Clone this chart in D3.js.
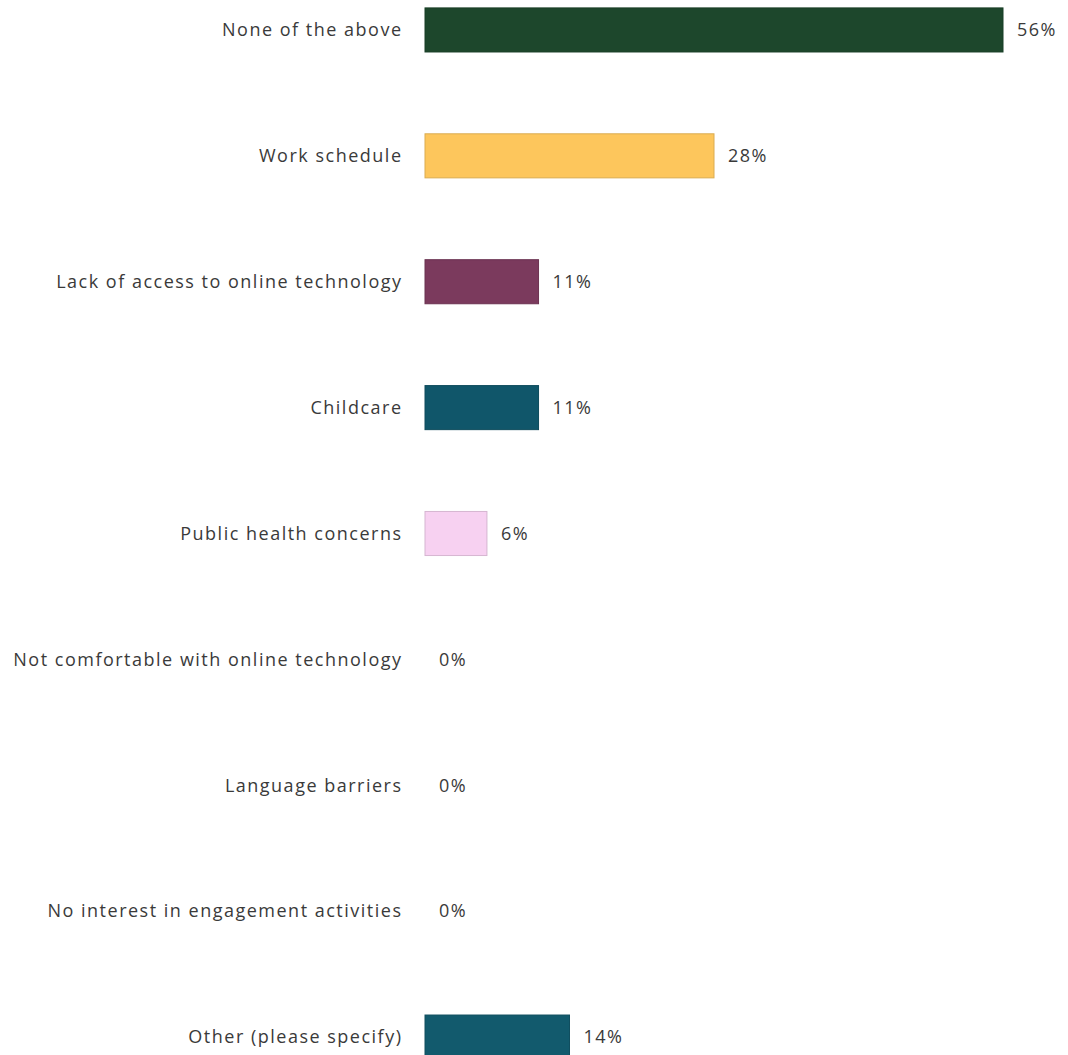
<!DOCTYPE html>
<html>
<head>
<meta charset="utf-8">
<script src="https://cdn.jsdelivr.net/npm/d3@7"></script>
<style>
  html, body { margin: 0; padding: 0; background: #ffffff; }
  svg { display: block; }
  text { font-family: "Open Sans", "Lato", sans-serif; fill: #3a3a3a; font-weight: 400; letter-spacing: 1.5px; }
</style>
</head>
<body>
<svg id="chart" width="1068" height="1055"></svg>
<script>
// Survey responses: barriers to taking part in engagement activities
const categories = [
  "None of the above",
  "Work schedule",
  "Lack of access to online technology",
  "Childcare",
  "Public health concerns",
  "Not comfortable with online technology",
  "Language barriers",
  "No interest in engagement activities",
  "Other (please specify)"
];
const values = [56, 28, 11, 11, 6, 0, 0, 0, 14];
const barColors = [
  "#1d472c", "#fdc65c", "#7b3a5d", "#10566a", "#f7d1f1",
  "#10566a", "#10566a", "#10566a", "#125a6d"
];

const svg = d3.select("#chart");
const x0 = 425;

const x = d3.scaleLinear().domain([0, 56]).range([x0, 1003]);
const y = d3.scaleBand()
  .domain(categories)
  .range([-33, 1100])
  .paddingInner(0.65)
  .paddingOuter(0.325);

const rows = svg.selectAll("g.row")
  .data(categories.map((c, i) => ({ c, v: values[i], col: barColors[i] })))
  .join("g")
  .attr("class", "row");

rows.append("rect")
  .attr("x", x0)
  .attr("y", d => y(d.c))
  .attr("width", d => x(d.v) - x0)
  .attr("height", y.bandwidth())
  .attr("fill", d => d.col)
  .attr("stroke", d => d3.color(d.col).darker(0.4))
  .attr("stroke-width", d => d.v > 0 ? 1 : 0);

// Category labels, right-aligned against the bars
rows.append("text")
  .attr("x", 402.5)
  .attr("y", d => y(d.c) + y.bandwidth() / 2)
  .attr("dy", "0.35em")
  .attr("text-anchor", "end")
  .style("font-size", "18px")
  .text(d => d.c);

// Value labels at the end of each bar
rows.append("text")
  .attr("x", d => x(d.v) + 14)
  .attr("y", d => y(d.c) + y.bandwidth() / 2)
  .attr("dy", "0.35em")
  .style("font-size", "18px")
  .text(d => d.v + "%");
</script>
</body>
</html>
